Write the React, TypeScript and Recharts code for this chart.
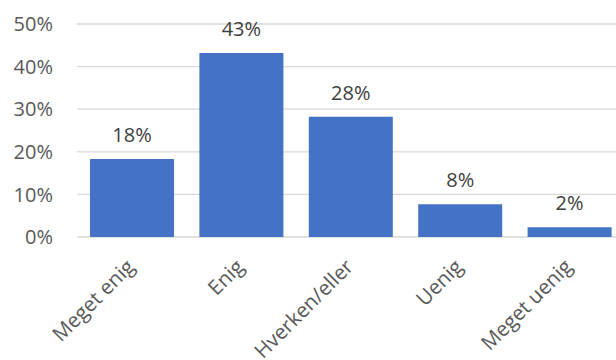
import { BarChart, Bar, XAxis, YAxis, CartesianGrid, LabelList } from "recharts";

const categories = ["Meget enig", "Enig", "Hverken/eller", "Uenig", "Meget uenig"];
const values = [18.3, 43.2, 28.2, 7.7, 2.3];
const valueLabels = ["18%", "43%", "28%", "8%", "2%"];
const yTicks = [0, 10, 20, 30, 40, 50];

const FONT = "'Open Sans', 'Liberation Sans', sans-serif";

const data = categories.map((name, i) => ({
  name,
  value: values[i],
  label: valueLabels[i],
}));

// rotated category label, end of text sits just right of the bar centre
function CategoryTick(props: { x?: number; y?: number; payload?: { value: string } }) {
  const x = (props.x ?? 0) + 4;
  const y = (props.y ?? 0) + 31;
  return (
    <text
      x={x}
      y={y}
      transform={`rotate(-45, ${x}, ${y})`}
      textAnchor="end"
      fill="#595959"
      fontSize={20.5}
      fontFamily={FONT}
    >
      {props.payload?.value}
    </text>
  );
}

export default function App() {
  return (
    <div
      style={{
        position: "absolute",
        left: 0,
        top: 0,
        width: 616,
        height: 360,
        overflow: "hidden",
        background: "#fff",
      }}
    >
      <BarChart
        width={624}
        height={360}
        data={data}
        margin={{ top: 24, right: 0, left: 0, bottom: 0 }}
      >
        <CartesianGrid vertical={false} stroke="#d9d9d9" strokeWidth={1.3} />
        <XAxis
          dataKey="name"
          height={123}
          axisLine={false}
          tickLine={false}
          tickSize={0}
          tickMargin={0}
          interval={0}
          tick={<CategoryTick />}
        />
        <YAxis
          width={77}
          domain={[0, 50]}
          ticks={yTicks}
          axisLine={false}
          tickLine={false}
          tickSize={0}
          tickMargin={24}
          tickFormatter={(v: number) => `${v}%`}
          tick={{ fill: "#595959", fontSize: 20, fontFamily: FONT }}
        />
        <Bar dataKey="value" fill="#4472C4" barSize={84} isAnimationActive={false}>
          <LabelList
            dataKey="label"
            position="top"
            offset={17}
            fill="#404040"
            fontSize={20}
            fontFamily={FONT}
          />
        </Bar>
      </BarChart>
    </div>
  );
}
